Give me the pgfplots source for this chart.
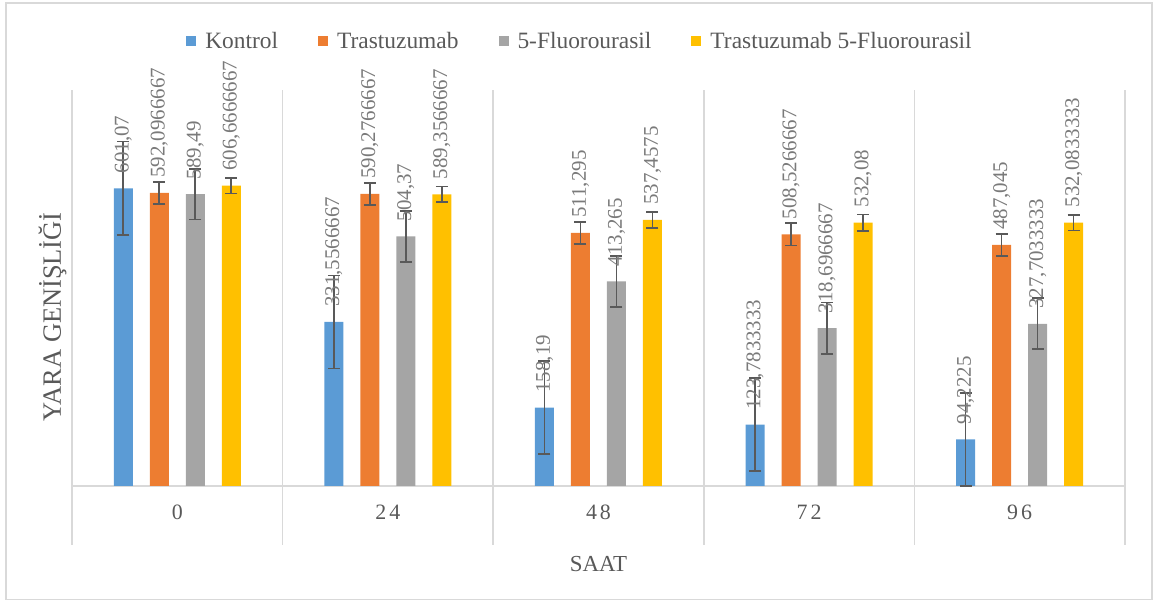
\documentclass[border=0pt]{standalone}
\usepackage{pgfplots}
\pgfplotsset{compat=1.18}
\usepackage{pgfplotstable}
\usepackage{fontspec}
\setmainfont{Liberation Serif}

\definecolor{ckontrol}{HTML}{5B9BD5}
\definecolor{ctras}{HTML}{ED7D31}
\definecolor{cfluo}{HTML}{A5A5A5}
\definecolor{ccomb}{HTML}{FFC000}
\definecolor{errgray}{HTML}{595959}
\definecolor{txtgray}{HTML}{595959}
\definecolor{lblgray}{HTML}{7A7A7A}
\definecolor{linegray}{HTML}{D9D9D9}

% x = saat (0,24,48,72,96 -> 0..4), y = mean, e = error, l = label
\pgfplotstableread{
x y e l
0 601.07 94.5 601,07
1 331.5566667 94 331,5566667
2 158.19 94 158,19
3 123.7833333 94 123,7833333
4 94.2225 94 94,2225
}\kontrol
\pgfplotstableread{
x y e l
0 592.0966667 22 592,0966667
1 590.2766667 22 590,2766667
2 511.295 22 511,295
3 508.5266667 22.5 508,5266667
4 487.045 22.5 487,045
}\trastuzumab
\pgfplotstableread{
x y e l
0 589.49 51.5 589,49
1 504.37 51.5 504,37
2 413.265 51.5 413,265
3 318.6966667 52 318,6966667
4 327.7033333 51.5 327,7033333
}\fluoro
\pgfplotstableread{
x y e l
0 606.6666667 16 606,6666667
1 589.3566667 16 589,3566667
2 537.4575 16 537,4575
3 532.08 16.5 532,08
4 532.0833333 16 532,0833333
}\kombi

\begin{document}
\begin{tikzpicture}
\path (0,0) rectangle (1155bp,601bp);
\draw[linegray, line width=1.5bp] (6bp,1.5bp) rectangle (1152bp,598bp);
\begin{axis}[
  at={(72bp,115bp)}, anchor=south west,
  scale only axis, width=1053bp, height=396bp,
  xmin=-0.5, xmax=4.5, ymin=0, ymax=800,
  ybar=17bp, bar width=19bp,
  clip=false,
  axis line style={draw=none},
  ytick=\empty,
  xtick={0,...,4},
  xticklabels={\mbox{0},\mbox{2\hspace{3bp}4},\mbox{4\hspace{3bp}8},\mbox{7\hspace{3bp}2},\mbox{9\hspace{3bp}6}},
  major tick length=0pt,
  xticklabel style={anchor=center, yshift=-26.5bp, font=\fontsize{22}{26}\selectfont, text=txtgray},
  xlabel={SAAT},
  xlabel style={at={(axis description cs:0.5,-0.196)}, anchor=center, font=\fontsize{23}{27}\selectfont, text=txtgray},
  ylabel={YARA GENİŞLİĞİ},
  ylabel style={at={(axis description cs:-0.0185,0.427)}, anchor=center, font=\fontsize{26.5}{30}\selectfont, text=txtgray},
  point meta=explicit symbolic,
  nodes near coords,
  every node near coord/.append style={rotate=90, anchor=west, inner xsep=15bp, inner ysep=0pt,
    font=\fontsize{21}{24}\selectfont, text=lblgray},
  legend columns=4,
  legend style={at={(axis description cs:0.4815,1.1237)}, anchor=center, draw=none, fill=none,
    font=\fontsize{23.5}{28}\selectfont, text=txtgray, inner sep=0pt,
    nodes={inner sep=0pt},
    /tikz/every odd column/.append style={column sep=9bp},
    /tikz/every even column/.append style={column sep=40bp}},
  legend image code/.code={\fill[#1] (0bp,-5bp) rectangle (10bp,5bp);},
  errs/.style={error bars/.cd, y dir=both, y explicit,
    error bar style={line width=1.6bp, draw=errgray},
    error mark options={rotate=90, mark size=6bp, line width=1.6bp, draw=errgray}},
]
% category separators and base line
\pgfplotsinvokeforeach{-0.5,0.5,1.5,2.5,3.5,4.5}{
  \draw[linegray, line width=1.5bp] (axis cs:#1,800) -- (axis cs:#1,-119);
}
\draw[linegray, line width=1.5bp] (axis cs:-0.5,0) -- (axis cs:4.5,0);

\addplot[fill=ckontrol, draw=none, errs] table[x=x, y=y, y error=e, meta=l] {\kontrol};
\addplot[fill=ctras, draw=none, errs] table[x=x, y=y, y error=e, meta=l] {\trastuzumab};
\addplot[fill=cfluo, draw=none, errs] table[x=x, y=y, y error=e, meta=l] {\fluoro};
\addplot[fill=ccomb, draw=none, errs] table[x=x, y=y, y error=e, meta=l] {\kombi};
\legend{Kontrol, Trastuzumab, 5-Fluorourasil, Trastuzumab 5-Fluorourasil}
\end{axis}
\end{tikzpicture}
\end{document}
